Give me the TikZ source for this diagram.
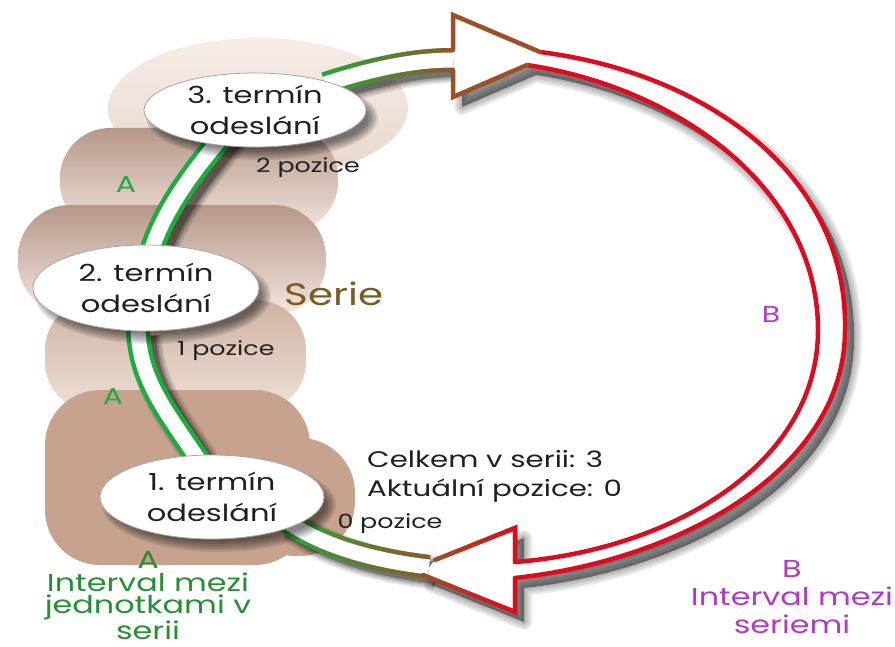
\documentclass[tikz,border=0pt]{standalone}
\usepackage{fontspec}
\setmainfont{Poppins}[FakeStretch=1.3]
\usetikzlibrary{fadings}
\definecolor{agreen}{RGB}{30,172,62}
\definecolor{abrown}{RGB}{156,80,40}
\definecolor{bred}{RGB}{222,10,32}
\definecolor{tgreen}{RGB}{38,142,52}
\definecolor{tpurple}{RGB}{176,58,198}
\definecolor{tserie}{RGB}{124,90,36}
\definecolor{tdark}{RGB}{32,32,32}
\definecolor{cA}{RGB}{246,237,231}
\definecolor{cB}{RGB}{232,214,204}
\definecolor{cBrown}{RGB}{182,151,137}
\definecolor{cLight}{RGB}{243,230,222}
\definecolor{cMid}{RGB}{206,178,163}
\definecolor{cTan}{RGB}{199,163,143}
\newcommand\myfs[2]{\fontsize{#1}{#2}\selectfont}
\def\Bregion{(453,50) -- (453,15) -- (540,52) .. controls (700,72) and (848,170) .. (845,330) .. controls (845,470) and (680,560) .. (515,578) -- (515,612) -- (423,575) -- (435,560) -- (515,528) -- (515,562) .. controls (670,550) and (818,465) .. (818,330) .. controls (818,190) and (680,88) .. (527,65) -- (453,97) -- (453,70) -- cycle}
\def\Aone{(200,462) .. controls (165,410) and (140,380) .. (138,330)}
\def\Atwo{(148,262) .. controls (160,215) and (190,175) .. (226,132)}
\def\Athree{(325,84) .. controls (375,68) and (415,60) .. (453,60)}
\def\Afour{(285,520) .. controls (320,545) and (370,560) .. (429,567)}
\begin{document}
\begin{tikzpicture}[x=1pt,y=-1pt,
 etext/.style={font=\myfs{23.5}{31}, align=center, text=tdark, inner sep=0pt},
 poslbl/.style={font=\myfs{19.5}{24}, text=tdark, inner sep=0pt},
 alabel/.style={font=\myfs{23}{28}, text=agreen, inner sep=0pt},
 serielbl/.style={font=\myfs{31}{36}, text=tserie, inner sep=0pt},
 infolbl/.style={font=\myfs{22.5}{29}, text=tdark, align=left, inner sep=0pt},
 blbl/.style={font=\myfs{23}{28}, text=tpurple, inner sep=0pt},
 legA/.style={font=\myfs{24.5}{22.5}, text=tgreen, align=center, inner sep=0pt},
 legB/.style={font=\myfs{24.5}{28}, text=tpurple, align=center, inner sep=0pt},
 ellfill/.style={fill=white, draw=black!35, line width=0.8pt},
 band/.style={line width=24pt},
 bandin/.style={white, line width=15pt},
 rline/.style={bred, line width=4.5pt},
 arrline/.style={abrown, line width=4.5pt, line join=miter, line cap=round},
]
\useasboundingbox (0,0) rectangle (895,647);
% cloud
\shade[top color=cA, bottom color=cB] (258,108) ellipse [x radius=150, y radius=70];
\shade[top color=cBrown, bottom color=cLight, rounded corners=50pt] (60,128) rectangle (338,232);
\shade[top color=cBrown, bottom color=cLight, rounded corners=52pt] (18,205) rectangle (326,314);
\shade[top color=cMid, bottom color=cLight!90!cMid, rounded corners=50pt] (45,300) rectangle (306,412);
\fill[cTan, rounded corners=55pt] (45,390) rectangle (310,565) (240,438) rectangle (355,556);
% shadows of the bands
\begin{scope}[shift={(9,10)}]
 \fill[black, opacity=0.45] \Bregion;
 \foreach \w in {4,8,12,16} {\draw[black, opacity=0.08, line width=\w pt, line join=round] \Bregion;}
\end{scope}
\begin{scope}[shift={(7,6)}]
 \foreach \w/\o in {34/0.1, 30/0.12, 26/0.18, 22/0.3} {
  \draw[black, opacity=\o, line width=\w pt] \Aone;
  \draw[black, opacity=\o, line width=\w pt] \Atwo;
  \draw[black, opacity=\o, line width=\w pt] \Athree;
  \draw[black, opacity=\o, line width=\w pt] \Afour;
 }
\end{scope}
% band B white body
\fill[white] \Bregion;
% band A
\draw[band, agreen] \Aone;
\draw[bandin] \Aone;
\draw[band, agreen] \Atwo;
\draw[bandin] \Atwo;
\draw[band, agreen] \Athree;
\draw[band, abrown, path fading=west] \Athree;
\draw[bandin] \Athree;
\draw[band, agreen] \Afour;
\draw[band, abrown, path fading=west] \Afour;
\draw[bandin] \Afour;
% band B lines
\draw[rline] (540,52) .. controls (700,72) and (848,170) .. (845,330) .. controls (845,470) and (680,560) .. (515,578);
\draw[rline] (527,65) .. controls (680,88) and (818,190) .. (818,330) .. controls (818,465) and (670,550) .. (515,562);
% arrowheads
\draw[arrline] (453,50) -- (453,15) -- (540,52);
\draw[arrline] (453,70) -- (453,97) -- (527,65);
\draw[arrline] (435,560) -- (515,528) -- (515,562);
\draw[arrline] (423,575) -- (515,612) -- (515,578);
\draw[arrline, bred, path fading=west] (435,560) -- (515,528) -- (515,562);
\draw[arrline, bred, path fading=west] (423,575) -- (515,612) -- (515,578);
% ellipses
\foreach \cx/\cy/\rx/\ry in {255/110/111/37, 146/288/113/43, 212/497/112/42} {
  \foreach \k in {0,...,5} {\fill[black, opacity=0.1] (\cx+7,\cy+8) ellipse [x radius={\rx+5-2*\k}, y radius={\ry+5-2*\k}];}
  \path[ellfill] (\cx,\cy) ellipse [x radius=\rx, y radius=\ry];
}
% texts
\node[etext] (t3) at (255,110) {3. termín\\odeslání};
\node[etext] (t2) at (146,288) {2. termín\\odeslání};
\node[etext] (t1) at (212,497) {1. termín\\odeslání};
\node[poslbl] (p2) at (308,168) {2 pozice};
\node[poslbl] (p1) at (226,351) {1 pozice};
\node[poslbl] (p0) at (390,524) {0 pozice};
\node[alabel] (a1) at (126,185) {A};
\node[alabel] (a2) at (113,397) {A};
\node[serielbl] (serie) at (334,294) {Serie};
\node[infolbl, anchor=west] (info) at (367,476) {Celkem v serii: 3\\Aktuální pozice: 0};
\node[blbl] (b) at (771,314) {B};
\node[legA] (lega) at (148,596) {A\\Interval mezi\\jednotkami v\\serii};
\node[legB] (legb) at (792,597) {B\\Interval mezi\\seriemi};
\end{tikzpicture}
\end{document}
